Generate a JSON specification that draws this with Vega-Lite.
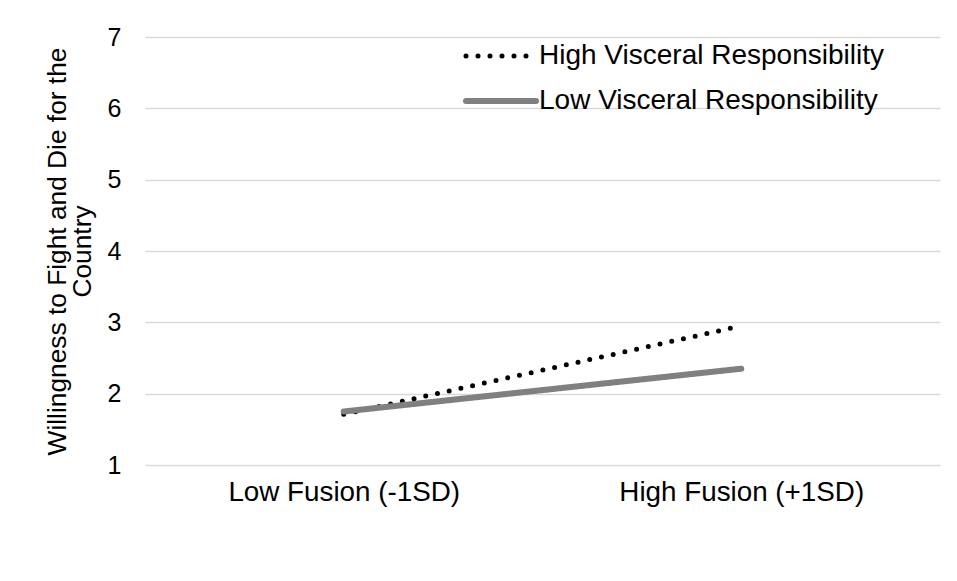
{
  "$schema": "https://vega.github.io/schema/vega-lite/v6.json",
  "width": 795,
  "height": 428,
  "autosize": {"type": "none"},
  "padding": {"left": 145, "top": 37, "right": 17, "bottom": 116},
  "background": "white",
  "config": {
    "view": {"stroke": null},
    "font": "Liberation Sans",
    "axis": {"labelFont": "Liberation Sans", "titleFont": "Liberation Sans", "labelColor": "black", "titleColor": "black"}
  },
  "data": {
    "values": [
      {"fusion": "Low Fusion (-1SD)", "series": "High Visceral Responsibility", "value": 1.71},
      {"fusion": "High Fusion (+1SD)", "series": "High Visceral Responsibility", "value": 2.95},
      {"fusion": "Low Fusion (-1SD)", "series": "Low Visceral Responsibility", "value": 1.75},
      {"fusion": "High Fusion (+1SD)", "series": "Low Visceral Responsibility", "value": 2.35}
    ]
  },
  "mark": {"type": "line", "strokeCap": "round"},
  "encoding": {
    "x": {
      "field": "fusion",
      "type": "nominal",
      "sort": ["Low Fusion (-1SD)", "High Fusion (+1SD)"],
      "scale": {"type": "point", "padding": 0.5},
      "axis": {"title": null, "labelAngle": 0, "labelFontSize": 27.8, "labelLimit": 400, "ticks": false, "domain": false, "grid": false, "labelPadding": 13}
    },
    "y": {
      "field": "value",
      "type": "quantitative",
      "scale": {"domain": [1, 7], "nice": false},
      "axis": {
        "title": ["Willingness to Fight and Die for the", "Country"],
        "titleFontSize": 26.3,
        "titleFontWeight": "normal",
        "titleLineHeight": 25,
        "titlePadding": 11,
        "titleLimit": 600,
        "values": [1, 2, 3, 4, 5, 6, 7],
        "labelFontSize": 25,
        "labelPadding": 24,
        "ticks": false,
        "domain": false,
        "gridColor": "#d9d9d9",
        "gridWidth": 1.5
      }
    },
    "color": {
      "field": "series",
      "type": "nominal",
      "scale": {"domain": ["High Visceral Responsibility", "Low Visceral Responsibility"], "range": ["black", "#808080"]},
      "legend": {
        "title": null,
        "orient": "none",
        "legendX": 318,
        "legendY": 3,
        "symbolType": "stroke",
        "symbolSize": 4900,
        "clipHeight": 32,
        "labelFontSize": 28,
        "labelLimit": 500,
        "labelColor": "black",
        "labelOffset": 0,
        "rowPadding": 13,
        "labelFont": "Liberation Sans",
        "encode": {"symbols": {"update": {"strokeCap": {"value": "round"}}}}
      }
    },
    "strokeDash": {
      "field": "series",
      "type": "nominal",
      "scale": {"domain": ["High Visceral Responsibility", "Low Visceral Responsibility"], "range": [[0, 12], [1, 0]]}
    },
    "strokeWidth": {
      "field": "series",
      "type": "nominal",
      "scale": {"domain": ["High Visceral Responsibility", "Low Visceral Responsibility"], "range": [5, 6]}
    }
  }
}
